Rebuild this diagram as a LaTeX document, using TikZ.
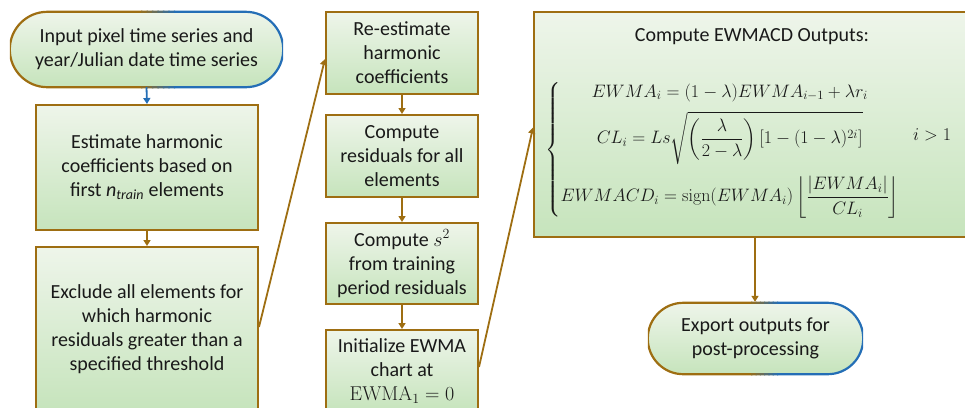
\documentclass[tikz,border=0pt]{standalone}
\usepackage{fix-cm}
\usepackage{amsmath}
\usepackage[no-math]{fontspec}
\setmainfont{Carlito}
\usetikzlibrary{arrows.meta,calc}

\definecolor{brd}{RGB}{158,110,18}
\definecolor{blu}{RGB}{36,110,182}
\definecolor{fillT}{RGB}{238,245,234}
\definecolor{fillB}{RGB}{198,228,188}
\definecolor{txt}{RGB}{25,25,25}

% outline of a terminal node, gold on the left turning blue on the right:
% #1 node name, #2 corner radius
\newcommand\termring[2]{%
  \foreach \a/\b/\c in {0/0.485/100, 0.48/0.505/88, 0.5/0.525/74, 0.52/0.545/58,
                        0.54/0.565/42, 0.56/0.585/26, 0.58/0.605/12, 0.6/1/0}{%
    \begin{scope}
      \clip ($(#1.north west)!\a!(#1.north east)+(0,6pt)$) rectangle
            ($(#1.south west)!\b!(#1.south east)+(0,-6pt)$);
      \draw[brd!\c!blu, line width=2.2pt, rounded corners=#2] (#1.north west) rectangle (#1.south east);
    \end{scope}}}

\begin{document}
\begin{tikzpicture}[x=1pt, y=-1pt,
  txtfont/.style={font=\fontsize{20}{24}\selectfont, text=txt},
  mathfont/.style={font=\fontsize{18}{22}\selectfont, text=txt},
  box/.style={rectangle, draw=brd, line width=2pt, top color=fillT, bottom color=fillB,
    align=center, inner sep=0pt, txtfont},
  term/.style={rectangle, top color=fillT, bottom color=fillB, align=center,
    inner sep=0pt, txtfont},
  conn/.style={draw=brd, line width=1.8pt, -{Triangle[length=6pt,width=7pt]}},
  bconn/.style={conn, draw=blu}]
\useasboundingbox (0,0) rectangle (965,407);
\clip (0,0) rectangle (965,407);

% left column
\node[term, rounded corners=37.5pt, minimum width=273pt, minimum height=75pt] (start) at (146.5,49.5)
  {Input pixel time series and\\year/Julian date time series};
\termring{start}{37.5pt}
\node[box, minimum width=222pt, minimum height=125pt] (est) at (147,167.5)
  {Estimate harmonic\\coefficients based on\\first \textit{n}\textsubscript{\textit{train}} elements};
\node[box, minimum width=222pt, minimum height=164pt] (excl) at (147,329)
  {Exclude all elements for\\which harmonic\\residuals greater than a\\specified threshold};

% middle column
\node[box, minimum width=152pt, minimum height=82pt] (reest) at (402,53)
  {Re-estimate\\harmonic\\coefficients};
\node[box, minimum width=152pt, minimum height=82pt] (resid) at (402,156)
  {Compute\\residuals for all\\elements};
\node[box, minimum width=152pt, minimum height=81pt] (svar) at (402,263.5)
  {Compute $s^2$\\from training\\period residuals};
\node[box, minimum width=152pt, minimum height=82pt] (init) at (402,371)
  {Initialize EWMA\\chart at\\$\mathrm{EWMA}_1 = 0$};

% right column
\node[box, minimum width=436pt, minimum height=225pt] (ewm) at (752,124.5) {};
\node[txtfont] (ewmtitle) at (752,37) {Compute EWMACD Outputs:};
\node[anchor=west, inner sep=0pt, mathfont] (ewmeq) at (545,150)
  {$\displaystyle\left\{\begin{array}{@{}c@{}}
    EWMA_i = (1-\lambda)EWMA_{i-1} + \lambda r_i\\[8pt]
    CL_i = Ls\sqrt{\left(\dfrac{\lambda}{2-\lambda}\right)\left[1-(1-\lambda)^{2i}\right]}\\[26pt]
    EWMACD_i = \mathrm{sign}(EWMA_i)\left\lfloor\dfrac{|EWMA_i|}{CL_i}\right\rfloor
  \end{array}\right.$};
\node[anchor=west, inner sep=0pt, mathfont] (cond) at (913,135) {$i>1$};
\node[term, rounded corners=35.5pt, minimum width=215pt, minimum height=71pt] (export) at (755.5,338.5)
  {Export outputs for\\post-processing};
\termring{export}{35.5pt}

% connectors
\draw[bconn] (start.south) -- (est.north);
\draw[conn] (est.south) -- (excl.north);
\draw[conn] ([yshift=2pt]excl.east) -- ([yshift=-6pt]reest.west);
\draw[conn] (reest.south) -- (resid.north);
\draw[conn] (resid.south) -- (svar.north);
\draw[conn] (svar.south) -- (init.north);
\draw[conn] ([yshift=4pt]init.east) -- ([yshift=-3pt]ewm.west);
\draw[conn] ([xshift=3pt]ewm.south) -- ([xshift=-0.5pt,yshift=1pt]export.north);
\end{tikzpicture}
\end{document}
